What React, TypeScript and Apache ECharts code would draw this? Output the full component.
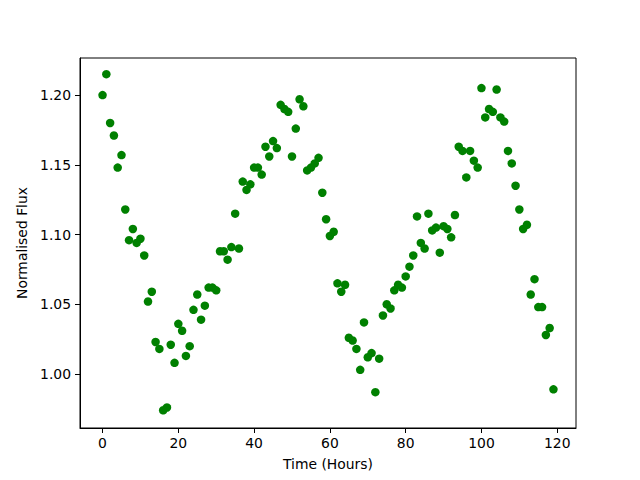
import React, { useEffect, useRef } from "react";
import * as echarts from "echarts";

const hours: number[] = Array.from({ length: 120 }, (_, i) => i);

const flux: number[] = [
  1.200, 1.215, 1.180, 1.171, 1.148, 1.157, 1.118, 1.096, 1.104, 1.094,
  1.097, 1.085, 1.052, 1.059, 1.023, 1.018, 0.974, 0.976, 1.021, 1.008,
  1.036, 1.031, 1.013, 1.020, 1.046, 1.057, 1.039, 1.049, 1.062, 1.062,
  1.060, 1.088, 1.088, 1.082, 1.091, 1.115, 1.090, 1.138, 1.132, 1.136,
  1.148, 1.148, 1.143, 1.163, 1.156, 1.167, 1.162, 1.193, 1.190, 1.188,
  1.156, 1.176, 1.197, 1.192, 1.146, 1.148, 1.151, 1.155, 1.130, 1.111,
  1.099, 1.102, 1.065, 1.059, 1.064, 1.026, 1.024, 1.018, 1.003, 1.037,
  1.012, 1.015, 0.987, 1.011, 1.042, 1.050, 1.047, 1.060, 1.064, 1.062,
  1.070, 1.077, 1.085, 1.113, 1.094, 1.090, 1.115, 1.103, 1.105, 1.087,
  1.106, 1.104, 1.098, 1.114, 1.163, 1.160, 1.141, 1.160, 1.153, 1.148,
  1.205, 1.184, 1.190, 1.188, 1.204, 1.184, 1.181, 1.160, 1.151, 1.135,
  1.118, 1.104, 1.107, 1.057, 1.068, 1.048, 1.048, 1.028, 1.033, 0.989,
];

const xTicks: number[] = [0, 20, 40, 60, 80, 100, 120];
const yTicks: number[] = [1.0, 1.05, 1.1, 1.15, 1.2];

const FONT = "DejaVu Sans";

export default function App() {
  const ref = useRef<HTMLDivElement>(null);
  useEffect(() => {
    if (!ref.current) return;
    const chart = echarts.init(ref.current, null, { renderer: "svg" });
    const points = hours.map((h, i) => [h, flux[i]]);
    chart.setOption({
      animation: false,
      backgroundColor: "#fff",
      grid: {
        left: 80,
        right: 64,
        top: 58,
        bottom: 52,
        show: true,
        borderColor: "#000",
        borderWidth: 1,
        backgroundColor: "#fff",
      },
      xAxis: {
        type: "value",
        min: -5.95,
        max: 124.95,
        name: "Time (Hours)",
        nameLocation: "middle",
        nameGap: 29,
        nameTextStyle: { fontFamily: FONT, fontSize: 13.9, color: "#000" },
        axisLine: { show: true, onZero: false, lineStyle: { color: "#000", width: 1 } },
        axisTick: {
          show: true,
          length: 5,
          customValues: xTicks,
          lineStyle: { color: "#000", width: 1 },
        },
        axisLabel: {
          customValues: xTicks,
          margin: 8,
          fontFamily: FONT,
          fontSize: 13.9,
          color: "#000",
        },
        splitLine: { show: false },
      },
      yAxis: {
        type: "value",
        min: 0.9613,
        max: 1.2266,
        name: "Normalised Flux",
        nameLocation: "middle",
        nameGap: 44,
        nameRotate: 90,
        nameTextStyle: { fontFamily: FONT, fontSize: 13.9, color: "#000" },
        axisLine: { show: true, onZero: false, lineStyle: { color: "#000", width: 1 } },
        axisTick: {
          show: true,
          length: 5,
          customValues: yTicks,
          lineStyle: { color: "#000", width: 1 },
        },
        axisLabel: {
          customValues: yTicks,
          margin: 9,
          fontFamily: FONT,
          fontSize: 13.9,
          color: "#000",
          formatter: (v: number) => v.toFixed(2),
        },
        splitLine: { show: false },
      },
      series: [
        {
          type: "scatter",
          data: points,
          symbol: "circle",
          symbolSize: 8.5,
          itemStyle: { color: "#008000", opacity: 1 },
        },
      ],
    });
    return () => chart.dispose();
  }, []);
  return (
    <div
      ref={ref}
      style={{ position: "fixed", left: 0, top: 0, width: 640, height: 480 }}
    />
  );
}
